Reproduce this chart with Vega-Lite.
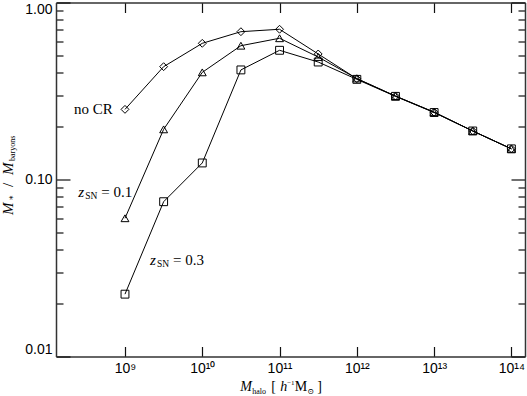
{
  "$schema": "https://vega.github.io/schema/vega-lite/v6.json",
  "width": 469,
  "height": 354,
  "autosize": "none",
  "padding": {"left": 56, "top": 2.5, "right": 2, "bottom": 39.5},
  "config": {"view": {"stroke": null}, "font": "Liberation Sans"},
  "datasets": {
    "series": [
      {"model": "noCR", "mhalo": 1e9, "frac": 0.249},
      {"model": "noCR", "mhalo": 3.162e9, "frac": 0.434},
      {"model": "noCR", "mhalo": 1e10, "frac": 0.588},
      {"model": "noCR", "mhalo": 3.162e10, "frac": 0.684},
      {"model": "noCR", "mhalo": 1e11, "frac": 0.706},
      {"model": "noCR", "mhalo": 3.162e11, "frac": 0.512},
      {"model": "noCR", "mhalo": 1e12, "frac": 0.371},
      {"model": "noCR", "mhalo": 3.162e12, "frac": 0.296},
      {"model": "noCR", "mhalo": 1e13, "frac": 0.240},
      {"model": "noCR", "mhalo": 3.162e13, "frac": 0.188},
      {"model": "noCR", "mhalo": 1e14, "frac": 0.149},
      {"model": "z0.1", "mhalo": 1e9, "frac": 0.0604},
      {"model": "z0.1", "mhalo": 3.162e9, "frac": 0.192},
      {"model": "z0.1", "mhalo": 1e10, "frac": 0.403},
      {"model": "z0.1", "mhalo": 3.162e10, "frac": 0.570},
      {"model": "z0.1", "mhalo": 1e11, "frac": 0.628},
      {"model": "z0.1", "mhalo": 3.162e11, "frac": 0.492},
      {"model": "z0.1", "mhalo": 1e12, "frac": 0.372},
      {"model": "z0.1", "mhalo": 3.162e12, "frac": 0.296},
      {"model": "z0.1", "mhalo": 1e13, "frac": 0.240},
      {"model": "z0.1", "mhalo": 3.162e13, "frac": 0.188},
      {"model": "z0.1", "mhalo": 1e14, "frac": 0.149},
      {"model": "z0.3", "mhalo": 1e9, "frac": 0.0225},
      {"model": "z0.3", "mhalo": 3.162e9, "frac": 0.0749},
      {"model": "z0.3", "mhalo": 1e10, "frac": 0.124},
      {"model": "z0.3", "mhalo": 3.162e10, "frac": 0.416},
      {"model": "z0.3", "mhalo": 1e11, "frac": 0.537},
      {"model": "z0.3", "mhalo": 3.162e11, "frac": 0.461},
      {"model": "z0.3", "mhalo": 1e12, "frac": 0.368},
      {"model": "z0.3", "mhalo": 3.162e12, "frac": 0.295},
      {"model": "z0.3", "mhalo": 1e13, "frac": 0.239},
      {"model": "z0.3", "mhalo": 3.162e13, "frac": 0.188},
      {"model": "z0.3", "mhalo": 1e14, "frac": 0.149}
    ],
    "nocr": [{"label": "no CR", "x": 6.93e8, "y": 0.2344}],
    "zlabels": [
      {"z": "z", "sub": "SN", "eq": "= 0.1", "x": 2.48e8, "y": 0.0799},
      {"z": "z", "sub": "SN", "eq": "= 0.3", "x": 2.11e9, "y": 0.0329}
    ],
    "xtitle": [{"x": 3.09e10, "y": 0.00638, "m": "M", "sub": "halo", "b1": "[", "h": "h", "sup": "−1", "m2": "M", "sun": "⊙", "b2": "]"}],
    "ytitle": [{"x": 3.54e7, "y": 0.063, "m": "M", "star": "∗", "slash": "/", "sub": "baryons"}]
  },
  "resolve": {"axis": {"x": "independent", "y": "independent"}},
  "layer": [
    {
      "data": {"name": "series"},
      "mark": {"type": "line", "color": "black", "strokeWidth": 1},
      "encoding": {
        "x": {
          "field": "mhalo", "type": "quantitative",
          "scale": {"type": "log", "domain": [1.28e8, 1.5e14], "nice": false},
          "axis": {
            "orient": "bottom", "title": null, "grid": false,
            "values": [1e9, 1e10, 1e11, 1e12, 1e13, 1e14],
            "labelExpr": "['10⁹','10¹⁰','10¹¹','10¹²','10¹³','10¹⁴'][round(log(datum.value)/LN10)-9]",
            "tickSize": -10, "tickColor": "#111", "tickWidth": 1.2,
            "domainColor": "#333", "domainWidth": 1.5,
            "labelFont": "Liberation Sans", "labelFontSize": 14, "labelColor": "black",
            "labelPadding": 15, "labelOverlap": false, "labelFlush": false
          }
        },
        "y": {
          "field": "frac", "type": "quantitative",
          "scale": {"type": "log", "domain": [0.01, 1], "nice": false},
          "axis": {
            "orient": "left", "title": null, "grid": false,
            "values": [0.01, 0.02, 0.03, 0.04, 0.05, 0.06, 0.07, 0.08, 0.09, 0.1, 0.2, 0.3, 0.4, 0.5, 0.6, 0.7, 0.8, 0.9, 1],
            "labelExpr": "abs(log(datum.value)/LN10 - round(log(datum.value)/LN10)) < 1e-6 ? format(datum.value, '.2f') : ''",
            "tickSize": {"condition": {"test": "abs(log(datum.value)/LN10 - round(log(datum.value)/LN10)) < 1e-6", "value": -14}, "value": -7},
            "tickColor": "#111", "tickWidth": 1.2,
            "domainColor": "#333", "domainWidth": 1.5,
            "labelFont": "Liberation Sans", "labelFontSize": 14, "labelColor": "black",
            "labelPadding": 18, "labelOverlap": false, "labelFlush": true, "labelFlushOffset": 0
          }
        },
        "detail": {"field": "model"}
      }
    },
    {
      "data": {"name": "series"},
      "mark": {"type": "point", "filled": false, "stroke": "black", "strokeWidth": 1, "size": 62, "opacity": 1},
      "encoding": {
        "x": {"field": "mhalo", "type": "quantitative", "axis": null},
        "y": {"field": "frac", "type": "quantitative", "axis": null},
        "shape": {"field": "model", "type": "nominal", "legend": null,
          "scale": {"domain": ["noCR", "z0.1", "z0.3"], "range": ["diamond", "triangle-up", "square"]}}
      }
    },
    {
      "data": {"name": "series"},
      "mark": {"type": "point", "opacity": 0},
      "encoding": {
        "x": {
          "field": "mhalo", "type": "quantitative",
          "axis": {
            "orient": "top", "title": null, "grid": false, "labels": false,
            "values": [1e9, 1e10, 1e11, 1e12, 1e13, 1e14],
            "tickSize": -10, "tickColor": "#111", "tickWidth": 1.2,
            "domainColor": "#333", "domainWidth": 1.5
          }
        },
        "y": {
          "field": "frac", "type": "quantitative",
          "axis": {
            "orient": "right", "title": null, "grid": false, "labels": false,
            "values": [0.01, 0.02, 0.03, 0.04, 0.05, 0.06, 0.07, 0.08, 0.09, 0.1, 0.2, 0.3, 0.4, 0.5, 0.6, 0.7, 0.8, 0.9, 1],
            "tickSize": {"condition": {"test": "abs(log(datum.value)/LN10 - round(log(datum.value)/LN10)) < 1e-6", "value": -14}, "value": -7},
            "tickColor": "#111", "tickWidth": 1.2,
            "domainColor": "#333", "domainWidth": 1.5
          }
        }
      }
    },
    {
      "data": {"name": "nocr"},
      "mark": {"type": "text", "font": "Liberation Serif", "fontSize": 15, "align": "right", "baseline": "alphabetic", "color": "black"},
      "encoding": {
        "x": {"field": "x", "type": "quantitative", "axis": null},
        "y": {"field": "y", "type": "quantitative", "axis": null},
        "text": {"field": "label"}
      }
    },
    {
      "data": {"name": "zlabels"},
      "mark": {"type": "text", "font": "Liberation Serif", "fontStyle": "italic", "fontSize": 15, "align": "left", "baseline": "alphabetic", "color": "black"},
      "encoding": {
        "x": {"field": "x", "type": "quantitative", "axis": null},
        "y": {"field": "y", "type": "quantitative", "axis": null},
        "text": {"field": "z"}
      }
    },
    {
      "data": {"name": "zlabels"},
      "mark": {"type": "text", "font": "Liberation Serif", "fontSize": 9.5, "align": "left", "baseline": "alphabetic", "dx": 7, "dy": 2.5, "color": "black"},
      "encoding": {
        "x": {"field": "x", "type": "quantitative", "axis": null},
        "y": {"field": "y", "type": "quantitative", "axis": null},
        "text": {"field": "sub"}
      }
    },
    {
      "data": {"name": "zlabels"},
      "mark": {"type": "text", "font": "Liberation Serif", "fontSize": 15, "align": "left", "baseline": "alphabetic", "dx": 23, "color": "black"},
      "encoding": {
        "x": {"field": "x", "type": "quantitative", "axis": null},
        "y": {"field": "y", "type": "quantitative", "axis": null},
        "text": {"field": "eq"}
      }
    },
    {
      "data": {"name": "xtitle"},
      "mark": {"type": "text", "font": "Liberation Serif", "fontStyle": "italic", "fontSize": 14, "align": "left", "baseline": "alphabetic", "color": "black"},
      "encoding": {
        "x": {"field": "x", "type": "quantitative", "axis": null},
        "y": {"field": "y", "type": "quantitative", "axis": null},
        "text": {"field": "m"}
      }
    },
    {
      "data": {"name": "xtitle"},
      "mark": {"type": "text", "font": "Liberation Serif", "fontSize": 8, "align": "left", "baseline": "alphabetic", "dx": 12, "dy": 3, "color": "black"},
      "encoding": {
        "x": {"field": "x", "type": "quantitative", "axis": null},
        "y": {"field": "y", "type": "quantitative", "axis": null},
        "text": {"field": "sub"}
      }
    },
    {
      "data": {"name": "xtitle"},
      "mark": {"type": "text", "font": "Liberation Serif", "fontSize": 14, "align": "left", "baseline": "alphabetic", "dx": 31, "color": "black"},
      "encoding": {
        "x": {"field": "x", "type": "quantitative", "axis": null},
        "y": {"field": "y", "type": "quantitative", "axis": null},
        "text": {"field": "b1"}
      }
    },
    {
      "data": {"name": "xtitle"},
      "mark": {"type": "text", "font": "Liberation Serif", "fontStyle": "italic", "fontSize": 14, "align": "left", "baseline": "alphabetic", "dx": 40, "color": "black"},
      "encoding": {
        "x": {"field": "x", "type": "quantitative", "axis": null},
        "y": {"field": "y", "type": "quantitative", "axis": null},
        "text": {"field": "h"}
      }
    },
    {
      "data": {"name": "xtitle"},
      "mark": {"type": "text", "font": "Liberation Serif", "fontSize": 7, "align": "left", "baseline": "alphabetic", "dx": 47, "dy": -6, "color": "black"},
      "encoding": {
        "x": {"field": "x", "type": "quantitative", "axis": null},
        "y": {"field": "y", "type": "quantitative", "axis": null},
        "text": {"field": "sup"}
      }
    },
    {
      "data": {"name": "xtitle"},
      "mark": {"type": "text", "font": "Liberation Serif", "fontSize": 14, "align": "left", "baseline": "alphabetic", "dx": 54.5, "color": "black"},
      "encoding": {
        "x": {"field": "x", "type": "quantitative", "axis": null},
        "y": {"field": "y", "type": "quantitative", "axis": null},
        "text": {"field": "m2"}
      }
    },
    {
      "data": {"name": "xtitle"},
      "mark": {"type": "text", "font": "DejaVu Serif", "fontSize": 8, "align": "left", "baseline": "alphabetic", "dx": 67, "dy": 3, "color": "black"},
      "encoding": {
        "x": {"field": "x", "type": "quantitative", "axis": null},
        "y": {"field": "y", "type": "quantitative", "axis": null},
        "text": {"field": "sun"}
      }
    },
    {
      "data": {"name": "xtitle"},
      "mark": {"type": "text", "font": "Liberation Serif", "fontSize": 14, "align": "left", "baseline": "alphabetic", "dx": 77, "color": "black"},
      "encoding": {
        "x": {"field": "x", "type": "quantitative", "axis": null},
        "y": {"field": "y", "type": "quantitative", "axis": null},
        "text": {"field": "b2"}
      }
    },
    {
      "data": {"name": "ytitle"},
      "mark": {"type": "text", "font": "Liberation Serif", "fontStyle": "italic", "fontSize": 15, "align": "left", "baseline": "alphabetic", "angle": 270, "color": "black"},
      "encoding": {
        "x": {"field": "x", "type": "quantitative", "axis": null},
        "y": {"field": "y", "type": "quantitative", "axis": null},
        "text": {"field": "m"}
      }
    },
    {
      "data": {"name": "ytitle"},
      "mark": {"type": "text", "font": "DejaVu Serif", "fontSize": 9, "align": "left", "baseline": "alphabetic", "angle": 270, "dx": 14, "dy": 1, "color": "black"},
      "encoding": {
        "x": {"field": "x", "type": "quantitative", "axis": null},
        "y": {"field": "y", "type": "quantitative", "axis": null},
        "text": {"field": "star"}
      }
    },
    {
      "data": {"name": "ytitle"},
      "mark": {"type": "text", "font": "Liberation Serif", "fontSize": 15, "align": "left", "baseline": "alphabetic", "angle": 270, "dx": 28, "color": "black"},
      "encoding": {
        "x": {"field": "x", "type": "quantitative", "axis": null},
        "y": {"field": "y", "type": "quantitative", "axis": null},
        "text": {"field": "slash"}
      }
    },
    {
      "data": {"name": "ytitle"},
      "mark": {"type": "text", "font": "Liberation Serif", "fontStyle": "italic", "fontSize": 15, "align": "left", "baseline": "alphabetic", "angle": 270, "dx": 40, "color": "black"},
      "encoding": {
        "x": {"field": "x", "type": "quantitative", "axis": null},
        "y": {"field": "y", "type": "quantitative", "axis": null},
        "text": {"field": "m"}
      }
    },
    {
      "data": {"name": "ytitle"},
      "mark": {"type": "text", "font": "Liberation Serif", "fontSize": 8, "align": "left", "baseline": "alphabetic", "angle": 270, "dx": 54, "dy": 2.5, "color": "black"},
      "encoding": {
        "x": {"field": "x", "type": "quantitative", "axis": null},
        "y": {"field": "y", "type": "quantitative", "axis": null},
        "text": {"field": "sub"}
      }
    }
  ]
}
